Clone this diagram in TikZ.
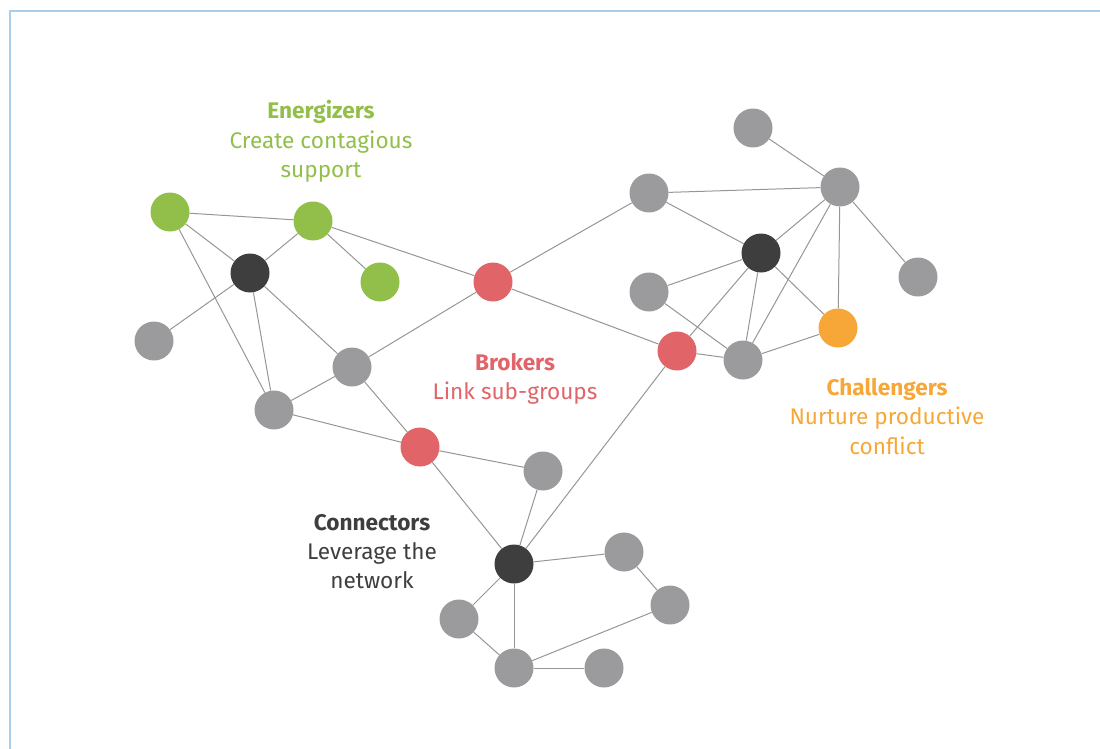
\documentclass[tikz,border=0pt]{standalone}
\usepackage{fontspec}
\setmainfont{Fira Sans}
\definecolor{cgreen}{RGB}{146,191,74}
\definecolor{cdark}{RGB}{62,62,62}
\definecolor{cgray}{RGB}{155,155,157}
\definecolor{cred}{RGB}{224,100,104}
\definecolor{corange}{RGB}{247,167,56}
\definecolor{cedge}{RGB}{150,150,150}
\definecolor{cframe}{RGB}{168,206,236}
\tikzset{
  dot/.style={circle,minimum size=39pt,inner sep=0pt,fill=#1},
  gn/.style={dot=cgray},
  edge/.style={draw=cedge,line width=1pt},
  lbl/.style={align=center,font=\fontsize{22.6}{29.2}\selectfont,anchor=north},
}
\begin{document}
\begin{tikzpicture}[x=1pt,y=-1pt]
\useasboundingbox (0,0) rectangle (1100,749);
\draw[cframe,line width=1.5pt] (10,749) -- (10,11) -- (1100,11);
% nodes
\node[dot=cgreen] (g1) at (170,212) {};
\node[dot=cgreen] (g2) at (313,221) {};
\node[dot=cgreen] (g3) at (380,282) {};
\node[dot=cdark] (d1) at (250,273) {};
\node[gn] (a1) at (154,341) {};
\node[gn] (a2) at (274,410) {};
\node[gn] (a3) at (352,367) {};
\node[dot=cred] (r1) at (493,282) {};
\node[dot=cred] (r2) at (420,447) {};
\node[gn] (a4) at (543,471) {};
\node[dot=cdark] (d2) at (514,564) {};
\node[gn] (a5) at (624,552) {};
\node[gn] (a6) at (670,605) {};
\node[gn] (a7) at (459,619) {};
\node[gn] (a8) at (514,668) {};
\node[gn] (a9) at (604,668) {};
\node[gn] (b1) at (753,128) {};
\node[gn] (b2) at (840,187) {};
\node[gn] (b3) at (649,193) {};
\node[dot=cdark] (d3) at (761,253) {};
\node[gn] (b4) at (918,277) {};
\node[gn] (b5) at (649,292) {};
\node[dot=corange] (o1) at (838,328) {};
\node[dot=cred] (r3) at (677,351) {};
\node[gn] (b6) at (743,360) {};
% edges
\foreach \u/\v in {g1/g2,g1/d1,g1/a2,g2/d1,g2/g3,g2/r1,d1/a1,d1/a2,d1/a3,a3/a2,a3/r1,a3/r2,a2/r2,
  r2/a4,r2/d2,a4/d2,d2/r3,d2/a5,d2/a7,d2/a8,a5/a6,a6/a8,a7/a8,a8/a9,
  r1/b3,r1/r3,r3/b6,r3/d3,b3/b2,b3/d3,b1/b2,b2/d3,b2/b6,b2/o1,b2/b4,d3/b5,d3/b6,d3/o1,b5/b6,b6/o1}
  \draw[edge] (\u) -- (\v);
% labels
\node[lbl,text=cgreen] (tEn) at (321,97) {\textbf{Energizers}\\Create contagious\\support};
\node[lbl,text=cred] (tBr) at (515,349.5) {\textbf{Brokers}\\Link sub-groups};
\node[lbl,text=cdark] (tCo) at (372,510.5) {\textbf{Connectors}\\Leverage the\\network};
\node[lbl,text=corange] (tCh) at (887,375) {\textbf{Challengers}\\Nurture productive\\conflict};
\end{tikzpicture}
\end{document}
